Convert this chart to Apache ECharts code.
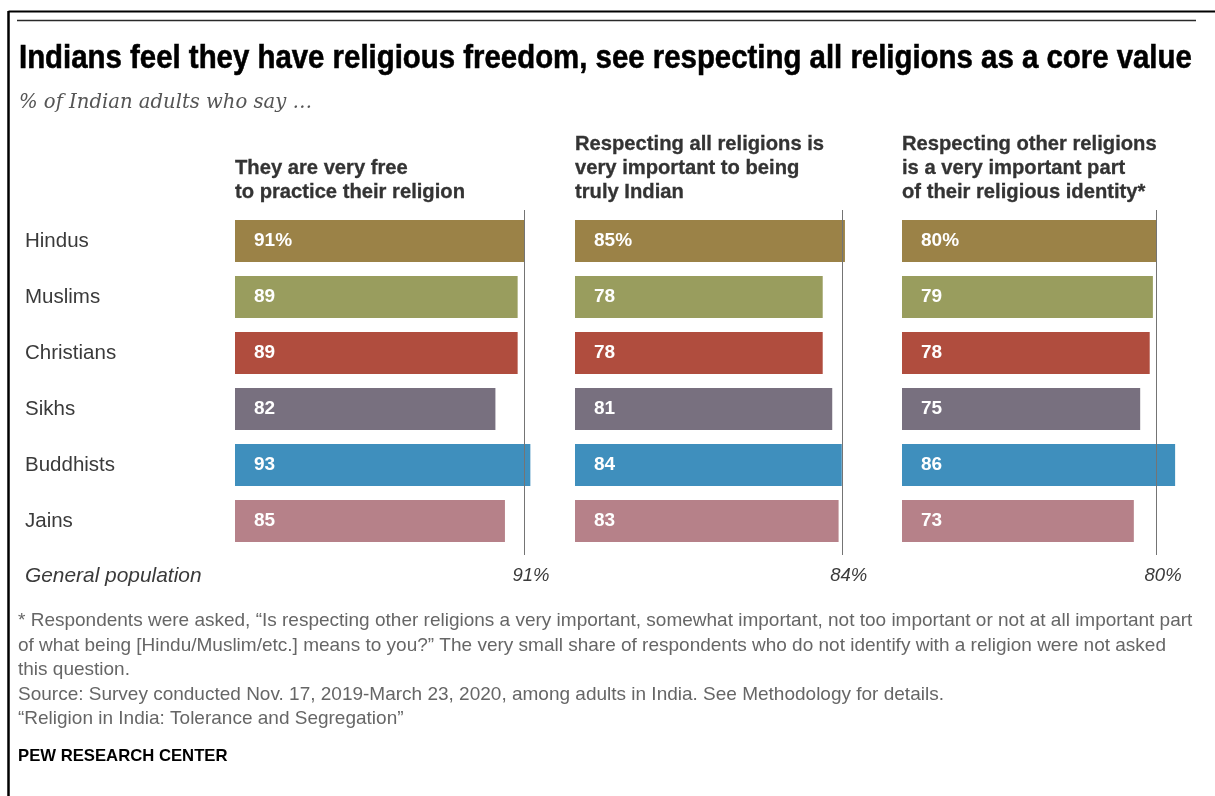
<!DOCTYPE html>
<html>
<head>
<meta charset="utf-8">
<script src="https://cdn.jsdelivr.net/npm/echarts@6/dist/echarts.min.js"></script>
<style>
html,body{margin:0;padding:0;background:#fff;}
#main{width:1215px;height:796px;}
</style>
</head>
<body>
<div id="main"></div>
<script>
// ---------- DATA ----------
const categories = ['Hindus', 'Muslims', 'Christians', 'Sikhs', 'Buddhists', 'Jains'];
const veryFree = [91, 89, 89, 82, 93, 85];
const trulyIndian = [85, 78, 78, 81, 84, 83];
const religiousIdentity = [80, 79, 78, 75, 86, 73];
const generalPopulation = [91, 84, 80];
const generalLabel = 'General population';
const panelHeaders = [
  ['They are very free', 'to practice their religion'],
  ['Respecting all religions is', 'very important to being', 'truly Indian'],
  ['Respecting other religions', 'is a very important part', 'of their religious identity*']
];
const titleText = 'Indians feel they have religious freedom, see respecting all religions as a core value';
const subtitleText = '% of Indian adults who say \u2026';
const footnoteLines = [
  '* Respondents were asked, \u201cIs respecting other religions a very important, somewhat important, not too important or not at all important part',
  'of what being [Hindu/Muslim/etc.] means to you?\u201d The very small share of respondents who do not identify with a religion were not asked',
  'this question.',
  'Source: Survey conducted Nov. 17, 2019-March 23, 2020, among adults in India. See Methodology for details.',
  '\u201cReligion in India: Tolerance and Segregation\u201d'
];
const creditText = 'PEW RESEARCH CENTER';

// ---------- STYLE ----------
const barColors = ['#9b8247', '#999d5e', '#b04d3e', '#78707f', '#3f8fbd', '#b68189'];
const SANS = "'Liberation Sans', Arial, sans-serif";
const SERIF = "'DejaVu Serif', 'Liberation Serif', serif";

const mctx = document.createElement('canvas').getContext('2d');
function fit(text, style, family, target) {
  mctx.font = style + ' 100px ' + family;
  const w = mctx.measureText(text).width;
  return Math.round(1000 * target / w) / 10;
}
const titleSize = fit(titleText, 'bold', SANS, 1174);
const subSize = fit(subtitleText, 'italic', SERIF, 293);
const headSize = Math.min(20.2, fit('Respecting all religions is', 'bold', SANS, 256));
const catSize = Math.round(((fit('Christians', 'normal', SANS, 95) + 19.5) / 2) * 10) / 10;
const genSize = Math.round(((fit(generalLabel, 'italic', SANS, 183) + 20) / 2) * 10) / 10;
const pctSize = 18.5;
const footSize = fit(footnoteLines[0], 'normal', SANS, 1175);
const creditSize = fit(creditText, 'bold', SANS, 210);
const valSize = 19;

const panelLeft = [235, 575, 902];
const pxPerUnit = (524 - 235) / 91;
const axisMax = 95;
const gridTop = 213, rowPitch = 56;
const panelData = [veryFree, trulyIndian, religiousIdentity];

const grids = [], xAxes = [], yAxes = [], series = [];
panelData.forEach((vals, i) => {
  grids.push({left: panelLeft[i], top: gridTop, width: axisMax * pxPerUnit, height: rowPitch * categories.length, containLabel: false});
  xAxes.push({type: 'value', gridIndex: i, min: 0, max: axisMax, show: false});
  yAxes.push({
    type: 'category', gridIndex: i, data: categories, inverse: true,
    axisLine: {show: false}, axisTick: {show: false}, splitLine: {show: false},
    axisLabel: i === 0 ? {show: true, align: 'left', margin: 210, fontSize: catSize, fontFamily: SANS, color: '#3a3a3a'} : {show: false}
  });
  series.push({
    type: 'bar', xAxisIndex: i, yAxisIndex: i, barWidth: 42,
    animation: false,
    data: vals.map((v, j) => ({value: v, itemStyle: {color: barColors[j]}})),
    label: {
      show: true, position: 'insideLeft', distance: 19, color: '#fff', fontWeight: 'bold',
      fontSize: valSize, fontFamily: SANS,
      formatter: p => p.dataIndex === 0 ? p.value + '%' : String(p.value)
    },
    emphasis: {disabled: true},
    markLine: {
      silent: true, symbol: ['none', 'none'], animation: false,
      lineStyle: {color: '#747474', width: 1, type: 'solid'},
      emphasis: {disabled: true},
      label: {
        show: true, position: 'end', distance: 11, formatter: generalPopulation[i] + '%',
        fontStyle: 'italic', fontSize: pctSize, fontFamily: SANS, color: '#3a3a3a',
        padding: [0, 0, 0, 14]
      },
      data: [[
        {coord: [generalPopulation[i], 0], y: 210},
        {coord: [generalPopulation[i], categories.length - 1], y: 555}
      ]]
    }
  });
});

// ---------- TEXT / FRAME GRAPHICS ----------
const graphics = [];
graphics.push({type: 'line', shape: {x1: 8.5, y1: 11.5, x2: 1215, y2: 11.5}, style: {stroke: '#000', lineWidth: 2}, silent: true});
graphics.push({type: 'line', shape: {x1: 8.5, y1: 11, x2: 8.5, y2: 796}, style: {stroke: '#000', lineWidth: 2.5}, silent: true});
graphics.push({type: 'line', shape: {x1: 17, y1: 20.5, x2: 1196, y2: 20.5}, style: {stroke: '#2a2a2a', lineWidth: 1.5}, silent: true});

function txt(text, x, y, size, opts) {
  opts = opts || {};
  const st = {
    text: text, fontSize: size, fontFamily: opts.family || SANS,
    fontWeight: opts.weight || 'normal', fontStyle: opts.style || 'normal',
    fill: opts.color || '#333', align: opts.align || 'left', verticalAlign: 'middle'
  };
  if (opts.stroke) { st.stroke = opts.color || '#333'; st.lineWidth = opts.stroke; }
  graphics.push({type: 'text', x: x, y: y, scaleY: opts.scaleY || 1, silent: true, style: st});
}
txt(titleText, 19, 59, titleSize, {weight: 'bold', color: '#000', scaleY: 1.1, stroke: 0.5});
txt(subtitleText, 19, 103, subSize, {family: SERIF, style: 'italic', color: '#555'});

const headerMid = [144, 168, 192];
panelHeaders.forEach((lines, i) => {
  const offset = 3 - lines.length;
  lines.forEach((ln, k) => {
    txt(ln, panelLeft[i], headerMid[k + offset], headSize, {weight: 'bold', color: '#333', stroke: 0.3});
  });
});

txt(generalLabel, 25, 576, genSize, {style: 'italic', color: '#3a3a3a'});

const footMid = [621, 646, 670, 695, 719];
footnoteLines.forEach((ln, k) => txt(ln, 18, footMid[k], footSize, {color: '#666'}));
txt(creditText, 18, 756, creditSize, {weight: 'bold', color: '#000'});

const chart = echarts.init(document.getElementById('main'), null, {renderer: 'canvas'});
chart.setOption({
  backgroundColor: '#fff',
  animation: false,
  grid: grids,
  xAxis: xAxes,
  yAxis: yAxes,
  series: series,
  graphic: graphics
});
</script>
</body>
</html>
